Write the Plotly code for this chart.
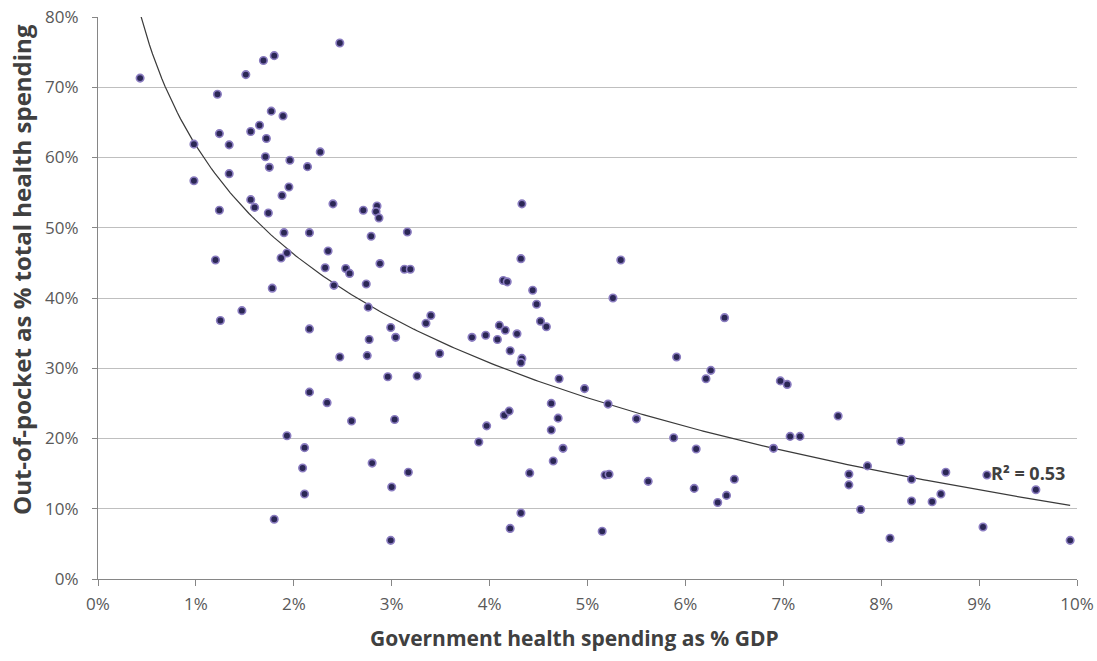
import numpy as np
import plotly.graph_objects as go

# Government health spending (% of GDP) per country
gov_spend = [
    0.43, 1.22, 1.51, 1.69, 1.80, 0.98, 1.24, 1.34, 1.56, 1.65, 1.77, 1.89, 1.72, 1.71,
    1.75, 1.96, 2.14, 2.27, 0.98, 1.34, 1.56, 1.60, 1.24, 1.88, 1.95, 2.40, 1.74, 1.90,
    2.16, 2.35, 1.93, 1.87, 1.20, 2.32, 2.41, 1.78, 2.47, 1.25, 1.47, 2.16, 2.47, 2.16,
    2.34, 1.93, 2.11, 2.09, 2.11, 1.80, 2.71, 2.85, 2.84, 2.87, 2.79, 3.16, 4.33, 2.53,
    2.57, 2.88, 3.13, 3.19, 2.74, 4.32, 4.14, 4.18, 4.44, 4.48, 2.76, 3.40, 3.35, 2.99,
    3.04, 2.77, 2.75, 3.49, 3.82, 3.96, 4.08, 4.10, 4.16, 4.28, 4.52, 4.58, 4.21, 4.33,
    4.32, 2.96, 3.26, 4.71, 2.59, 3.03, 4.63, 4.15, 4.20, 3.97, 4.70, 4.63, 3.89, 4.75,
    4.65, 4.41, 2.80, 3.17, 3.00, 4.32, 4.21, 2.99, 5.34, 5.26, 6.40, 5.91, 6.26, 6.21,
    6.97, 7.04, 4.97, 5.21, 5.50, 7.56, 5.88, 7.07, 7.17, 6.11, 6.90, 5.18, 5.22, 5.62,
    6.50, 6.09, 6.42, 6.33, 5.15, 8.20, 7.86, 7.67, 7.67, 7.79, 8.31, 8.66, 8.31, 8.52,
    8.61, 8.09, 9.08, 9.58, 9.04, 9.93,
]

# Out-of-pocket spending (% of total health spending) per country
out_of_pocket = [
    71.3, 69.0, 71.8, 73.8, 74.5, 61.9, 63.4, 61.8, 63.7, 64.6, 66.6, 65.9, 62.7, 60.1,
    58.6, 59.6, 58.7, 60.8, 56.7, 57.7, 54.0, 52.9, 52.5, 54.6, 55.8, 53.4, 52.1, 49.3,
    49.3, 46.7, 46.4, 45.7, 45.4, 44.3, 41.8, 41.4, 76.3, 36.8, 38.2, 35.6, 31.6, 26.6,
    25.1, 20.4, 18.7, 15.8, 12.1, 8.5, 52.5, 53.1, 52.3, 51.4, 48.8, 49.4, 53.4, 44.2,
    43.5, 44.9, 44.1, 44.1, 42.0, 45.6, 42.5, 42.3, 41.1, 39.1, 38.7, 37.5, 36.4, 35.8,
    34.4, 34.1, 31.8, 32.1, 34.4, 34.7, 34.1, 36.1, 35.4, 34.9, 36.7, 35.9, 32.5, 31.4,
    30.8, 28.8, 28.9, 28.5, 22.5, 22.7, 25.0, 23.3, 23.9, 21.8, 22.9, 21.2, 19.5, 18.6,
    16.8, 15.1, 16.5, 15.2, 13.1, 9.4, 7.2, 5.5, 45.4, 40.0, 37.2, 31.6, 29.7, 28.5,
    28.2, 27.7, 27.1, 24.9, 22.8, 23.2, 20.1, 20.3, 20.3, 18.5, 18.6, 14.8, 14.9, 13.9,
    14.2, 12.9, 11.9, 10.9, 6.8, 19.6, 16.1, 14.9, 13.4, 9.9, 14.2, 15.2, 11.1, 11.0,
    12.1, 5.8, 14.8, 12.7, 7.4, 5.5,
]

x_ticks = list(range(0, 11))
y_ticks = list(range(0, 81, 10))

x = np.array(gov_spend)
y = np.array(out_of_pocket)

# Logarithmic trendline y = a + b*ln(x), least squares
b, a = np.polyfit(np.log(x), y, 1)
pred = a + b * np.log(x)
r2 = 1 - np.sum((y - pred) ** 2) / np.sum((y - y.mean()) ** 2)

x_fit = np.linspace(x.min(), x.max(), 300)
y_fit = a + b * np.log(x_fit)

fig = go.Figure()

fig.add_trace(go.Scatter(
    x=x_fit, y=y_fit, mode="lines",
    line=dict(color="#3a3a3a", width=1.2),
    hoverinfo="skip", showlegend=False,
))

fig.add_trace(go.Scatter(
    x=gov_spend, y=out_of_pocket, mode="markers",
    marker=dict(size=7.5, color="#2b2755",
                line=dict(color="#8a7cc0", width=1.6)),
    showlegend=False,
))

fig.add_annotation(
    x=9.10, y=15.1, xref="x", yref="y",
    text=f"<b>R² = {r2:.2f}</b>", showarrow=False,
    xanchor="left", yanchor="middle",
    font=dict(family="Open Sans", size=18, color="#404040"),
)

# Axis titles
fig.add_annotation(
    x=0.487, y=-0.105, xref="paper", yref="paper",
    text="<b>Government health spending as % GDP</b>", showarrow=False,
    xanchor="center", yanchor="middle",
    font=dict(family="Open Sans", size=21, color="#404040"),
)
fig.add_annotation(
    x=-0.0776, y=0.55, xref="paper", yref="paper",
    text="<b>Out-of-pocket as % total health spending</b>", showarrow=False,
    textangle=-90, xanchor="center", yanchor="middle",
    font=dict(family="Open Sans", size=24, color="#404040"),
)

font_family = "Open Sans"

fig.update_layout(
    width=1097, height=661,
    margin=dict(l=98, r=20, t=17, b=82),
    paper_bgcolor="white", plot_bgcolor="white",
    font=dict(family=font_family, color="#595959"),
    xaxis=dict(
        range=[0, 10], tickvals=x_ticks,
        ticktext=[f"{v}%" for v in x_ticks],
        showgrid=False, zeroline=False, automargin=False,
        showline=True, linecolor="#868686", linewidth=1,
        ticks="outside", ticklen=6, tickcolor="#868686",
        ticklabelstandoff=4,
        tickfont=dict(size=17, color="#595959"),
    ),
    yaxis=dict(
        range=[0, 80], tickvals=y_ticks,
        ticktext=[f"{v}%" for v in y_ticks],
        showgrid=True, gridcolor="#bfbfbf", gridwidth=1,
        zeroline=False, automargin=False,
        showline=True, linecolor="#868686", linewidth=1,
        ticks="outside", ticklen=5, tickcolor="#868686",
        ticklabelstandoff=10,
        tickfont=dict(size=17, color="#595959"),
    ),
)

fig.write_html("out.html")
